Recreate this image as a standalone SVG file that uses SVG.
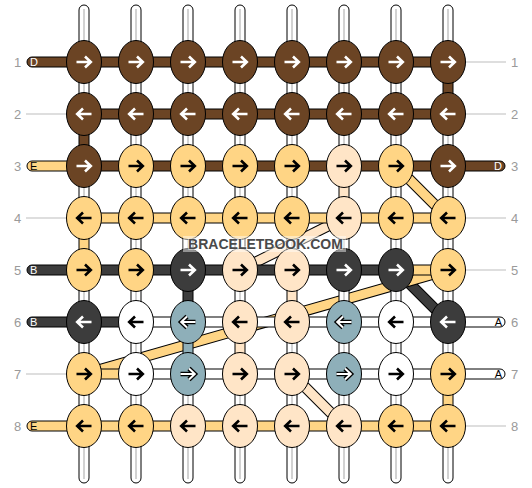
<svg xmlns="http://www.w3.org/2000/svg" xmlns:xlink="http://www.w3.org/1999/xlink" width="532" height="488" viewBox="0 0 532 488">
<style>
.s{stroke:#000;stroke-width:1}
.br{fill:#6b4424}.or{fill:#ffd585}.pe{fill:#ffe5c7}.dk{fill:#3c3c3c}.te{fill:#8eafb9}.wh{fill:#fff}
.gl{stroke:#d2d2d2;stroke-width:2}
.lab{stroke:#bdbdbd;stroke-width:1}
.num{font-family:"Liberation Sans",Arial,sans-serif;font-size:13px;fill:#9a9a9a;text-anchor:middle}
.let{font-family:"Liberation Sans",Arial,sans-serif;font-size:11px}
.dout{stroke:#000;stroke-width:11;stroke-linecap:butt}
.dor{stroke:#ffd585;stroke-width:9}.dpe{stroke:#ffe5c7;stroke-width:9}.ddk{stroke:#3c3c3c;stroke-width:9}
.aw{fill:none;stroke:#fff;stroke-width:2.6}
.ab{fill:none;stroke:#000;stroke-width:2.6}
.ao{fill:none;stroke:#000;stroke-width:4.6}
.ai{fill:none;stroke:#fff;stroke-width:2}
</style>
<defs>
<path id="r" d="M-7.5,0H6.5M1,-5.5L6.8,0L1,5.5"/>
<path id="l" d="M7.5,0H-6.5M-1,-5.5L-6.8,0L-1,5.5"/>
<ellipse id="n" rx="17.5" ry="21.5"/>
</defs>

<g id="guides">
<line class="lab" x1="26" y1="114" x2="67" y2="114"/>
<line class="lab" x1="26" y1="218" x2="67" y2="218"/>
<line class="lab" x1="26" y1="374" x2="67" y2="374"/>
<line class="lab" x1="465" y1="62" x2="506" y2="62"/>
<line class="lab" x1="465" y1="114" x2="506" y2="114"/>
<line class="lab" x1="465" y1="218" x2="506" y2="218"/>
<line class="lab" x1="465" y1="270" x2="506" y2="270"/>
<line class="lab" x1="465" y1="426" x2="506" y2="426"/>
</g>

<g id="connectors">
<!-- diagonals -->
<line class="dout" x1="396" y1="166" x2="448" y2="218"/><line class="dor" x1="396" y1="166" x2="448" y2="218"/>
<line class="dout" x1="344" y1="218" x2="240" y2="270"/><line class="dpe" x1="344" y1="218" x2="240" y2="270"/>
<line class="dout" x1="396" y1="270" x2="448" y2="322"/><line class="ddk" x1="396" y1="270" x2="448" y2="322"/>
<line class="dout" x1="448" y1="270" x2="84" y2="374"/><line class="dor" x1="448" y1="270" x2="84" y2="374"/>
<line class="dout" x1="292" y1="374" x2="344" y2="426"/><line class="dpe" x1="292" y1="374" x2="344" y2="426"/>

<!-- top and bottom base strings -->
<g class="s wh">
<rect x="79" y="5" width="10" height="60" rx="5"/><rect x="131" y="5" width="10" height="60" rx="5"/><rect x="183" y="5" width="10" height="60" rx="5"/><rect x="235" y="5" width="10" height="60" rx="5"/><rect x="287" y="5" width="10" height="60" rx="5"/><rect x="339" y="5" width="10" height="60" rx="5"/><rect x="391" y="5" width="10" height="60" rx="5"/><rect x="443" y="5" width="10" height="60" rx="5"/>
<rect x="79" y="423" width="10" height="60" rx="5"/><rect x="131" y="423" width="10" height="60" rx="5"/><rect x="183" y="423" width="10" height="60" rx="5"/><rect x="235" y="423" width="10" height="60" rx="5"/><rect x="287" y="423" width="10" height="60" rx="5"/><rect x="339" y="423" width="10" height="60" rx="5"/><rect x="391" y="423" width="10" height="60" rx="5"/><rect x="443" y="423" width="10" height="60" rx="5"/>
</g>
<g class="gl">
<line x1="84" y1="9" x2="84" y2="62"/><line x1="136" y1="9" x2="136" y2="62"/><line x1="188" y1="9" x2="188" y2="62"/><line x1="240" y1="9" x2="240" y2="62"/><line x1="292" y1="9" x2="292" y2="62"/><line x1="344" y1="9" x2="344" y2="62"/><line x1="396" y1="9" x2="396" y2="62"/><line x1="448" y1="9" x2="448" y2="62"/>
<line x1="84" y1="426" x2="84" y2="479"/><line x1="136" y1="426" x2="136" y2="479"/><line x1="188" y1="426" x2="188" y2="479"/><line x1="240" y1="426" x2="240" y2="479"/><line x1="292" y1="426" x2="292" y2="479"/><line x1="344" y1="426" x2="344" y2="479"/><line x1="396" y1="426" x2="396" y2="479"/><line x1="448" y1="426" x2="448" y2="479"/>
</g>

<!-- side strings -->
<rect class="s br" x="27" y="57" width="60" height="10" rx="5"/>
<rect class="s or" x="27" y="161" width="60" height="10" rx="5"/>
<rect class="s dk" x="27" y="265" width="60" height="10" rx="5"/>
<rect class="s dk" x="27" y="317" width="60" height="10" rx="5"/>
<rect class="s or" x="27" y="421" width="60" height="10" rx="5"/>
<rect class="s br" x="445" y="161" width="60" height="10" rx="5"/>
<rect class="s wh" x="445" y="317" width="60" height="10" rx="5"/>
<rect class="s wh" x="445" y="369" width="60" height="10" rx="5"/>

<!-- horizontal segments -->
<g class="s br">
<rect x="84" y="57" width="364" height="10"/>
<rect x="84" y="109" width="364" height="10"/>
<rect x="84" y="161" width="364" height="10"/>
</g>
<g class="s or">
<rect x="84" y="213" width="364" height="10"/>
<rect x="396" y="265" width="52" height="10"/>
<rect x="84" y="369" width="52" height="10"/>
<rect x="84" y="421" width="364" height="10"/>
</g>
<g class="s dk">
<rect x="84" y="265" width="312" height="10"/>
<rect x="84" y="317" width="52" height="10"/>
</g>
<g class="s wh">
<rect x="136" y="317" width="312" height="10"/>
<rect x="136" y="369" width="312" height="10"/>
</g>

<!-- vertical white segments -->
<g class="s wh">
<rect x="79" y="62" width="10" height="52"/><rect x="131" y="62" width="10" height="52"/><rect x="183" y="62" width="10" height="52"/><rect x="235" y="62" width="10" height="52"/><rect x="287" y="62" width="10" height="52"/><rect x="339" y="62" width="10" height="52"/><rect x="391" y="62" width="10" height="52"/>
<rect x="131" y="114" width="10" height="52"/><rect x="183" y="114" width="10" height="52"/><rect x="235" y="114" width="10" height="52"/><rect x="287" y="114" width="10" height="52"/><rect x="339" y="114" width="10" height="52"/><rect x="391" y="114" width="10" height="52"/><rect x="443" y="114" width="10" height="52"/>
<rect x="79" y="166" width="10" height="52"/><rect x="131" y="166" width="10" height="52"/><rect x="183" y="166" width="10" height="52"/><rect x="235" y="166" width="10" height="52"/><rect x="287" y="166" width="10" height="52"/><rect x="391" y="166" width="10" height="52"/><rect x="443" y="166" width="10" height="52"/>
<rect x="131" y="218" width="10" height="52"/><rect x="183" y="218" width="10" height="52"/><rect x="235" y="218" width="10" height="52"/><rect x="287" y="218" width="10" height="52"/><rect x="339" y="218" width="10" height="52"/><rect x="391" y="218" width="10" height="52"/><rect x="443" y="218" width="10" height="52"/>
<rect x="79" y="270" width="10" height="52"/><rect x="131" y="270" width="10" height="52"/><rect x="235" y="270" width="10" height="52"/><rect x="339" y="270" width="10" height="52"/><rect x="391" y="270" width="10" height="52"/><rect x="443" y="270" width="10" height="52"/>
<rect x="79" y="322" width="10" height="52"/><rect x="131" y="322" width="10" height="52"/><rect x="287" y="322" width="10" height="52"/><rect x="339" y="322" width="10" height="52"/><rect x="391" y="322" width="10" height="52"/><rect x="443" y="322" width="10" height="52"/>
<rect x="79" y="374" width="10" height="52"/><rect x="131" y="374" width="10" height="52"/><rect x="183" y="374" width="10" height="52"/><rect x="235" y="374" width="10" height="52"/><rect x="287" y="374" width="10" height="52"/><rect x="339" y="374" width="10" height="52"/><rect x="391" y="374" width="10" height="52"/>
</g>
<path class="gl" d="M84,62V114M136,62V114M188,62V114M240,62V114M292,62V114M344,62V114M396,62V114M136,114V166M188,114V166M240,114V166M292,114V166M344,114V166M396,114V166M448,114V166M84,166V218M136,166V218M188,166V218M240,166V218M292,166V218M396,166V218M448,166V218M136,218V270M188,218V270M240,218V270M292,218V270M344,218V270M396,218V270M448,218V270M84,270V322M136,270V322M240,270V322M344,270V322M396,270V322M448,270V322M84,322V374M136,322V374M292,322V374M344,322V374M396,322V374M448,322V374M84,374V426M136,374V426M188,374V426M240,374V426M292,374V426M344,374V426M396,374V426"/>
<!-- vertical colored segments -->
<rect class="s br" x="443" y="62" width="10" height="52"/>
<rect class="s br" x="79" y="114" width="10" height="52"/>
<rect class="s pe" x="339" y="166" width="10" height="52"/>
<rect class="s or" x="79" y="218" width="10" height="52"/>
<rect class="s dk" x="183" y="270" width="10" height="52"/>
<rect class="s pe" x="287" y="270" width="10" height="52"/>
<rect class="s te" x="183" y="322" width="10" height="52"/>
<rect class="s pe" x="235" y="322" width="10" height="52"/>
<rect class="s or" x="443" y="374" width="10" height="52"/>
</g>

<!-- nodes -->
<g id="row1">
<g id="n1-1"><use href="#n" x="84" y="62" class="s br"/><use href="#r" x="84" y="62" class="aw"/></g>
<g id="n1-2"><use href="#n" x="136" y="62" class="s br"/><use href="#r" x="136" y="62" class="aw"/></g>
<g id="n1-3"><use href="#n" x="188" y="62" class="s br"/><use href="#r" x="188" y="62" class="aw"/></g>
<g id="n1-4"><use href="#n" x="240" y="62" class="s br"/><use href="#r" x="240" y="62" class="aw"/></g>
<g id="n1-5"><use href="#n" x="292" y="62" class="s br"/><use href="#r" x="292" y="62" class="aw"/></g>
<g id="n1-6"><use href="#n" x="344" y="62" class="s br"/><use href="#r" x="344" y="62" class="aw"/></g>
<g id="n1-7"><use href="#n" x="396" y="62" class="s br"/><use href="#r" x="396" y="62" class="aw"/></g>
<g id="n1-8"><use href="#n" x="448" y="62" class="s br"/><use href="#r" x="448" y="62" class="aw"/></g>
</g>
<g id="row2">
<g id="n2-1"><use href="#n" x="84" y="114" class="s br"/><use href="#l" x="84" y="114" class="aw"/></g>
<g id="n2-2"><use href="#n" x="136" y="114" class="s br"/><use href="#l" x="136" y="114" class="aw"/></g>
<g id="n2-3"><use href="#n" x="188" y="114" class="s br"/><use href="#l" x="188" y="114" class="aw"/></g>
<g id="n2-4"><use href="#n" x="240" y="114" class="s br"/><use href="#l" x="240" y="114" class="aw"/></g>
<g id="n2-5"><use href="#n" x="292" y="114" class="s br"/><use href="#l" x="292" y="114" class="aw"/></g>
<g id="n2-6"><use href="#n" x="344" y="114" class="s br"/><use href="#l" x="344" y="114" class="aw"/></g>
<g id="n2-7"><use href="#n" x="396" y="114" class="s br"/><use href="#l" x="396" y="114" class="aw"/></g>
<g id="n2-8"><use href="#n" x="448" y="114" class="s br"/><use href="#l" x="448" y="114" class="aw"/></g>
</g>
<g id="row3">
<g id="n3-1"><use href="#n" x="84" y="166" class="s br"/><use href="#r" x="84" y="166" class="aw"/></g>
<g id="n3-2"><use href="#n" x="136" y="166" class="s or"/><use href="#r" x="136" y="166" class="ab"/></g>
<g id="n3-3"><use href="#n" x="188" y="166" class="s or"/><use href="#r" x="188" y="166" class="ab"/></g>
<g id="n3-4"><use href="#n" x="240" y="166" class="s or"/><use href="#r" x="240" y="166" class="ab"/></g>
<g id="n3-5"><use href="#n" x="292" y="166" class="s or"/><use href="#r" x="292" y="166" class="ab"/></g>
<g id="n3-6"><use href="#n" x="344" y="166" class="s pe"/><use href="#r" x="344" y="166" class="ab"/></g>
<g id="n3-7"><use href="#n" x="396" y="166" class="s or"/><use href="#r" x="396" y="166" class="ab"/></g>
<g id="n3-8"><use href="#n" x="448" y="166" class="s br"/><use href="#r" x="448" y="166" class="aw"/></g>
</g>
<g id="row4">
<g id="n4-1"><use href="#n" x="84" y="218" class="s or"/><use href="#l" x="84" y="218" class="ab"/></g>
<g id="n4-2"><use href="#n" x="136" y="218" class="s or"/><use href="#l" x="136" y="218" class="ab"/></g>
<g id="n4-3"><use href="#n" x="188" y="218" class="s or"/><use href="#l" x="188" y="218" class="ab"/></g>
<g id="n4-4"><use href="#n" x="240" y="218" class="s or"/><use href="#l" x="240" y="218" class="ab"/></g>
<g id="n4-5"><use href="#n" x="292" y="218" class="s or"/><use href="#l" x="292" y="218" class="ab"/></g>
<g id="n4-6"><use href="#n" x="344" y="218" class="s pe"/><use href="#l" x="344" y="218" class="ab"/></g>
<g id="n4-7"><use href="#n" x="396" y="218" class="s or"/><use href="#l" x="396" y="218" class="ab"/></g>
<g id="n4-8"><use href="#n" x="448" y="218" class="s or"/><use href="#l" x="448" y="218" class="ab"/></g>
</g>
<g id="row5">
<g id="n5-1"><use href="#n" x="84" y="270" class="s or"/><use href="#r" x="84" y="270" class="ab"/></g>
<g id="n5-2"><use href="#n" x="136" y="270" class="s or"/><use href="#r" x="136" y="270" class="ab"/></g>
<g id="n5-3"><use href="#n" x="188" y="270" class="s dk"/><use href="#r" x="188" y="270" class="aw"/></g>
<g id="n5-4"><use href="#n" x="240" y="270" class="s pe"/><use href="#r" x="240" y="270" class="ab"/></g>
<g id="n5-5"><use href="#n" x="292" y="270" class="s pe"/><use href="#r" x="292" y="270" class="ab"/></g>
<g id="n5-6"><use href="#n" x="344" y="270" class="s dk"/><use href="#r" x="344" y="270" class="aw"/></g>
<g id="n5-7"><use href="#n" x="396" y="270" class="s dk"/><use href="#r" x="396" y="270" class="aw"/></g>
<g id="n5-8"><use href="#n" x="448" y="270" class="s or"/><use href="#r" x="448" y="270" class="ab"/></g>
</g>
<g id="row6">
<g id="n6-1"><use href="#n" x="84" y="322" class="s dk"/><use href="#l" x="84" y="322" class="aw"/></g>
<g id="n6-2"><use href="#n" x="136" y="322" class="s wh"/><use href="#l" x="136" y="322" class="ab"/></g>
<g id="n6-3"><use href="#n" x="188" y="322" class="s te"/><use href="#l" x="188" y="322" class="ao"/><use href="#l" x="188" y="322" class="ai"/></g>
<g id="n6-4"><use href="#n" x="240" y="322" class="s pe"/><use href="#l" x="240" y="322" class="ab"/></g>
<g id="n6-5"><use href="#n" x="292" y="322" class="s pe"/><use href="#l" x="292" y="322" class="ab"/></g>
<g id="n6-6"><use href="#n" x="344" y="322" class="s te"/><use href="#l" x="344" y="322" class="ao"/><use href="#l" x="344" y="322" class="ai"/></g>
<g id="n6-7"><use href="#n" x="396" y="322" class="s wh"/><use href="#l" x="396" y="322" class="ab"/></g>
<g id="n6-8"><use href="#n" x="448" y="322" class="s dk"/><use href="#l" x="448" y="322" class="aw"/></g>
</g>
<g id="row7">
<g id="n7-1"><use href="#n" x="84" y="374" class="s or"/><use href="#r" x="84" y="374" class="ab"/></g>
<g id="n7-2"><use href="#n" x="136" y="374" class="s wh"/><use href="#r" x="136" y="374" class="ab"/></g>
<g id="n7-3"><use href="#n" x="188" y="374" class="s te"/><use href="#r" x="188" y="374" class="ao"/><use href="#r" x="188" y="374" class="ai"/></g>
<g id="n7-4"><use href="#n" x="240" y="374" class="s pe"/><use href="#r" x="240" y="374" class="ab"/></g>
<g id="n7-5"><use href="#n" x="292" y="374" class="s pe"/><use href="#r" x="292" y="374" class="ab"/></g>
<g id="n7-6"><use href="#n" x="344" y="374" class="s te"/><use href="#r" x="344" y="374" class="ao"/><use href="#r" x="344" y="374" class="ai"/></g>
<g id="n7-7"><use href="#n" x="396" y="374" class="s wh"/><use href="#r" x="396" y="374" class="ab"/></g>
<g id="n7-8"><use href="#n" x="448" y="374" class="s or"/><use href="#r" x="448" y="374" class="ab"/></g>
</g>
<g id="row8">
<g id="n8-1"><use href="#n" x="84" y="426" class="s or"/><use href="#l" x="84" y="426" class="ab"/></g>
<g id="n8-2"><use href="#n" x="136" y="426" class="s or"/><use href="#l" x="136" y="426" class="ab"/></g>
<g id="n8-3"><use href="#n" x="188" y="426" class="s pe"/><use href="#l" x="188" y="426" class="ab"/></g>
<g id="n8-4"><use href="#n" x="240" y="426" class="s pe"/><use href="#l" x="240" y="426" class="ab"/></g>
<g id="n8-5"><use href="#n" x="292" y="426" class="s pe"/><use href="#l" x="292" y="426" class="ab"/></g>
<g id="n8-6"><use href="#n" x="344" y="426" class="s pe"/><use href="#l" x="344" y="426" class="ab"/></g>
<g id="n8-7"><use href="#n" x="396" y="426" class="s or"/><use href="#l" x="396" y="426" class="ab"/></g>
<g id="n8-8"><use href="#n" x="448" y="426" class="s or"/><use href="#l" x="448" y="426" class="ab"/></g>
</g>

<g id="labels">
<text class="num" x="17.5" y="66.5">1</text><text class="num" x="17.5" y="118.5">2</text><text class="num" x="17.5" y="170.5">3</text><text class="num" x="17.5" y="222.5">4</text><text class="num" x="17.5" y="274.5">5</text><text class="num" x="17.5" y="326.5">6</text><text class="num" x="17.5" y="378.5">7</text><text class="num" x="17.5" y="430.5">8</text>
<text class="num" x="514.5" y="66.5">1</text><text class="num" x="514.5" y="118.5">2</text><text class="num" x="514.5" y="170.5">3</text><text class="num" x="514.5" y="222.5">4</text><text class="num" x="514.5" y="274.5">5</text><text class="num" x="514.5" y="326.5">6</text><text class="num" x="514.5" y="378.5">7</text><text class="num" x="514.5" y="430.5">8</text>
<text class="let" x="30" y="66" fill="#fff">D</text>
<text class="let" x="30" y="170" fill="#000">E</text>
<text class="let" x="30" y="274" fill="#fff">B</text>
<text class="let" x="30" y="326" fill="#fff">B</text>
<text class="let" x="30" y="430" fill="#000">E</text>
<text class="let" x="502" y="170" fill="#fff" text-anchor="end">D</text>
<text class="let" x="502" y="326" fill="#000" text-anchor="end">A</text>
<text class="let" x="502" y="378" fill="#000" text-anchor="end">A</text>
</g>

<g id="watermark">
<rect x="183" y="236" width="163" height="16" fill="#fff" fill-opacity="0.45"/>
<text x="265.5" y="249" text-anchor="middle" font-family="'Liberation Sans',Arial,sans-serif" font-size="14" font-weight="bold" fill="#4a4a4a" stroke="#fff" stroke-opacity="0.6" stroke-width="1.5" paint-order="stroke">BRACELETBOOK.COM</text>
</g>
</svg>
